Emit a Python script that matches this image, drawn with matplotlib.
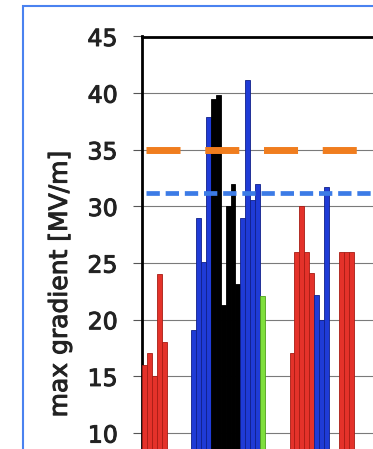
import numpy as np
import matplotlib.pyplot as plt
import matplotlib.patheffects as pe
from matplotlib.patches import Rectangle

plt.rcParams.update({
    "font.family": "DejaVu Sans",
    "lines.scale_dashes": False,
})

# one entry per cavity slot; NaN = empty slot
gradient = [16.0, 17.1, 15.0, 24.0, 18.0,
            np.nan, np.nan, np.nan, np.nan, np.nan,
            19.1, 29.0, 25.1, 37.9, 39.5, 39.8, 21.3, 30.0, 32.0, 23.2,
            29.0, 41.2, 30.6, 32.0, 22.1,
            np.nan, np.nan, np.nan, np.nan, np.nan,
            17.1, 26.0, 30.0, 26.0, 24.1, 22.2, 20.0, 31.7,
            np.nan, np.nan,
            26.0, 26.0, 26.0]
kind = (["R"] * 5 + ["-"] * 5 + ["B"] * 4 + ["K"] * 6 + ["B"] * 4 + ["G"]
        + ["-"] * 5 + ["R"] * 5 + ["B"] * 3 + ["-"] * 2 + ["R"] * 3)
orange_level = 35.0
blue_level = 31.2
yticks = [10, 15, 20, 25, 30, 35, 40, 45]

FILL = {"R": "#E4322A", "B": "#1F3BD6", "K": "#000000", "G": "#7FDF3C"}
EDGE = {"R": "#A81C14", "B": "#10208A", "K": "#000000", "G": "#4FA01C"}

W, H, DPI = 373, 449, 100
fig = plt.figure(figsize=(W / DPI, H / DPI), dpi=DPI)
fig.patch.set_facecolor("white")
ax = fig.add_axes([142 / W, 1 - 546.4 / H, 280.4 / W, 509.9 / H])

vals = np.array(gradient, dtype=float)
x = np.arange(len(vals))
keep = ~np.isnan(vals)
ax.bar(x[keep], vals[keep], width=1.0,
       color=[FILL[k] for k, m in zip(kind, keep) if m],
       edgecolor=[EDGE[k] for k, m in zip(kind, keep) if m],
       linewidth=0.6, zorder=3)

xmax = 56.5
ax.plot([0.3, xmax], [orange_level, orange_level], color="#F07D1E", lw=5,
        dashes=(24.5, 17.8), dash_capstyle="butt", zorder=4)
ax.plot([0.3, xmax], [blue_level, blue_level], color="#3C7BE6", lw=3.4,
        dashes=(9.6, 4.2), dash_capstyle="butt", zorder=4)

ax.set_xlim(-0.5, xmax)
ax.set_ylim(0, 45)
ax.set_yticks(yticks)
ax.set_xticks([])
ax.yaxis.grid(True, color="#7a7a7a", lw=0.8, zorder=0)
ax.set_axisbelow(True)
ax.tick_params(axis="y", direction="out", length=6.5, width=0.8,
               color="#555555", pad=11, labelsize=17, labelcolor="#222222")
for side in ("right", "bottom"):
    ax.spines[side].set_visible(False)
for side in ("left", "top"):
    ax.spines[side].set_linewidth(2)
ax.set_ylabel("max gradient [MV/m]", fontsize=18, color="#222222")
ax.yaxis.set_label_coords(-0.25, 0.5146)

# slightly heavier text, like the blurred original
heavy = [pe.withStroke(linewidth=0.7, foreground="#222222")]
ax.yaxis.label.set_path_effects(heavy)
for lab in ax.get_yticklabels():
    lab.set_path_effects(heavy)

# blue frame around the original slide picture
fig.add_artist(Rectangle((23 / W, -0.2), 2.0, 1.2 - 6 / H, transform=fig.transFigure,
                         fill=False, edgecolor="#4A82F0", lw=1.5))

fig.savefig("out.png", dpi=DPI)
